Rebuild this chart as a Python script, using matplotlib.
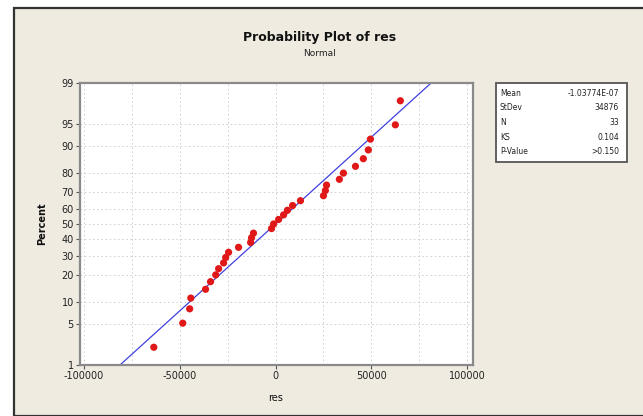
#!/usr/bin/env python3
# Normal probability plot of residuals (Minitab style), 643x416 px.
from statistics import NormalDist
import numpy as np
import matplotlib
matplotlib.use("Agg")
import matplotlib.pyplot as plt
from matplotlib.patches import Rectangle
from matplotlib.ticker import FixedLocator, MultipleLocator

# residuals (sorted) and their plotted percent positions
RES = [-63500, -48400, -44800, -44200, -36500, -33900, -31200, -29700,
       -27100, -26000, -24500, -19300, -13000, -12500, -11500, -2100,
       -1000, 1600, 4200, 6200, 8900, 13000, 25000, 26000, 26600,
       33300, 35400, 41700, 45800, 48400, 49500, 62500, 65100]
PCT = [2.10, 5.09, 8.08, 11.08, 14.07, 17.07, 20.06, 23.05, 26.05, 29.04,
       32.04, 35.03, 38.02, 41.02, 44.01, 47.01, 50.00, 52.99, 55.99, 58.98,
       61.98, 64.97, 67.96, 70.96, 73.95, 76.95, 79.94, 82.93, 85.93, 88.92,
       91.92, 94.91, 97.90]
FIT_MEAN, FIT_SD = 0.0, 34876
FIT_PCT = [1, 99]
YTICKS = [1, 5, 10, 20, 30, 40, 50, 60, 70, 80, 90, 95, 99]
XTICKS = [-100000, -50000, 0, 50000, 100000]
STAT_LBL = ["Mean", "StDev", "N", "KS", "P-Value"]
STAT_VAL = ["-1.03774E-07", "34876", "33", "0.104", ">0.150"]

BG = "#EFEBE1"
W, H = 643, 416
nd = NormalDist()
_ppf = np.vectorize(nd.inv_cdf, otypes=[float])
_cdf = np.vectorize(nd.cdf, otypes=[float])

def fwd(p):
    p = np.clip(np.asarray(p, float) / 100.0, 1e-9, 1 - 1e-9)
    return _ppf(p)

def inv(z):
    return _cdf(np.asarray(z, float)) * 100.0

fig = plt.figure(figsize=(W / 100, H / 100), dpi=100, facecolor="white")
# picture frame
fig.patches.append(Rectangle((14 / W, 0), 1, (H - 8) / H, transform=fig.transFigure,
                             facecolor=BG, edgecolor="#333333", lw=1.6, zorder=-5))

ax = fig.add_axes([80 / W, (H - 365) / H, (473 - 80) / W, (365 - 83) / H])
ax.set_zorder(2)
ax.set_yscale("function", functions=(fwd, inv))
ax.set_ylim(1, 99)
ax.set_xlim(-102000, 103000)

ax.yaxis.set_major_locator(FixedLocator(YTICKS))
ax.set_yticklabels([str(t) for t in YTICKS])
ax.yaxis.set_minor_locator(FixedLocator([]))
ax.set_xticks(XTICKS)
ax.set_xticklabels([str(t) for t in XTICKS])
ax.xaxis.set_minor_locator(MultipleLocator(25000))
ax.tick_params(labelsize=7, length=3, width=0.8, color="#555555",
               labelcolor="#222222", pad=1.5)
ax.tick_params(which="minor", length=0)

ax.grid(True, which="both", axis="x", color="#CACACA", lw=0.6, ls=(0, (2, 3)))
ax.grid(True, which="major", axis="y", color="#CACACA", lw=0.6, ls=(0, (2, 3)))
ax.set_axisbelow(True)
for s in ax.spines.values():
    s.set_color("#8A8A8A")
    s.set_linewidth(1.6)

fit_x = [NormalDist(FIT_MEAN, FIT_SD).inv_cdf(p / 100) for p in FIT_PCT]
ax.plot(fit_x, FIT_PCT, color="#4040E0", lw=0.9, zorder=2)
ax.scatter(RES, PCT, s=27, color="#E01818", edgecolors="none", zorder=3)

fig.text(320 / W, (H - 38) / H, "Probability Plot of res", ha="center",
         va="center", fontsize=9, fontweight="bold", color="#111111")
fig.text(320 / W, (H - 54) / H, "Normal", ha="center", va="center",
         fontsize=6.5, color="#222222")
fig.text(42 / W, (H - 224) / H, "Percent", rotation=90, ha="center",
         va="center", fontsize=7, fontweight="bold", color="#111111")
fig.text(276 / W, (H - 398) / H, "res", ha="center", va="center",
         fontsize=7, color="#111111")

# statistics box
fig.patches.append(Rectangle((496 / W, (H - 162) / H), (627 - 496) / W, 79 / H,
                             transform=fig.transFigure, facecolor="white",
                             edgecolor="#555555", lw=1.3, zorder=1))
for i, (lbl, val) in enumerate(zip(STAT_LBL, STAT_VAL)):
    y = (H - (93 + 14.75 * i)) / H
    fig.text(500 / W, y, lbl, ha="left", va="center", fontsize=5.5, color="#222222")
    fig.text(619 / W, y, val, ha="right", va="center", fontsize=5.5, color="#222222")

fig.savefig("out.png", dpi=100, facecolor=fig.get_facecolor())
